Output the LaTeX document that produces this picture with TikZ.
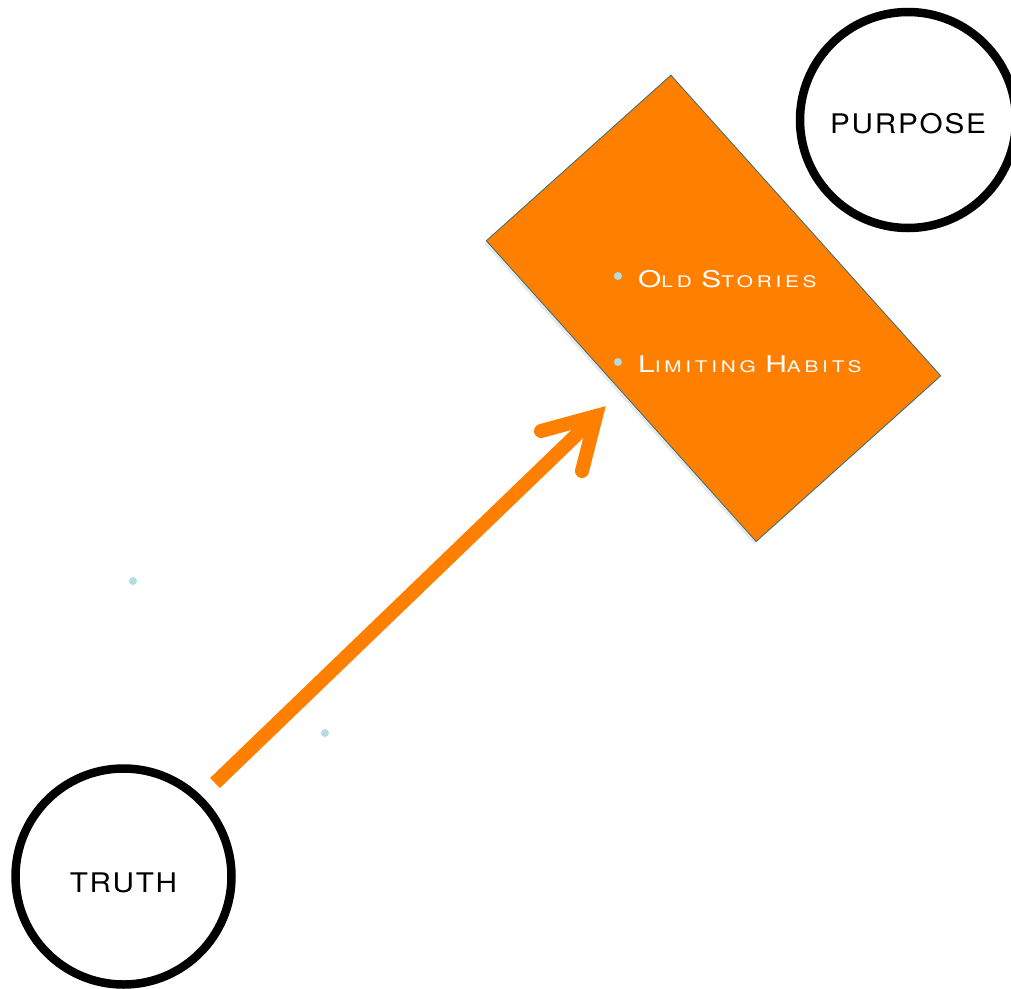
\documentclass[tikz,border=0pt]{standalone}
\usepackage{fontspec}
\usepackage{graphicx}
\setmainfont{TeX Gyre Heros}
\newfontfamily\ringfont[LetterSpace=6]{TeX Gyre Heros}
\newfontfamily\listfont[LetterSpace=18]{TeX Gyre Heros}
\usepackage{tikz}
\usetikzlibrary{positioning,shadows}
\definecolor{stOrange}{RGB}{255,127,0}
\definecolor{stTeal}{RGB}{58,108,112}
\definecolor{stDot}{RGB}{178,220,224}
\newcommand\listcaps[2]{{\fontsize{23}{26}\selectfont #1}{\fontsize{16}{18}\selectfont #2}}
\newcommand\ringword[1]{\scalebox{1.1}[1]{#1}}

\begin{document}
\begin{tikzpicture}[x=1pt, y=-1pt,
  ring/.style={circle, draw=black, line width=8.5pt, minimum size=216pt, inner sep=0pt,
               text depth=0pt, font=\ringfont\fontsize{27}{30}\selectfont},
  panel/.style={draw=stTeal, line width=0.8pt, fill=stOrange, minimum width=404pt,
                minimum height=248pt, inner sep=0pt,
                drop shadow={shadow xshift=-2pt, shadow yshift=-3pt, opacity=0.18}},
  item/.style={anchor=base west, inner sep=0pt, text=white,
               font=\listfont\fontsize{16}{18}\selectfont},
  speck/.style={circle, fill=stDot, minimum size=8pt, inner sep=0pt},
  push/.style={draw=stOrange, line width=14pt},
  pushhead/.style={push, line cap=round, line join=miter},
]
\useasboundingbox (0,0) rectangle (1011,988);

\node[ring, text height=27pt] (purpose) at (908,120) {\ringword{PURPOSE}};
\node[ring, text height=32pt] (truth) at (123.5,876.5) {\ringword{TRUTH}};

\node[panel, rotate=-48.1] (panel) at (713.5,308.3) {};
\node[speck] (dotold) at (618,276) {};
\node[speck] (dotlim) at (618,362) {};
\node[item] (old) at (638,287) {\scalebox{1.3}[1]{\listcaps{O}{LD} \listcaps{S}{TORIES}}};
\node[item] (lim) at (638,372) {\scalebox{1.3}[1]{\listcaps{L}{IMITING} \listcaps{H}{ABITS}}};

\node[speck] (specka) at (133,581) {};
\node[speck] (speckb) at (325,733) {};

\coordinate (tail) at (215,783);
\coordinate (tip) at (596,416);
\coordinate (barba) at (541,431);
\coordinate (barbb) at (582,471);
\draw[push] (tail) -- (tip);
\draw[pushhead] (barba) -- (tip) -- (barbb);
\end{tikzpicture}
\end{document}
